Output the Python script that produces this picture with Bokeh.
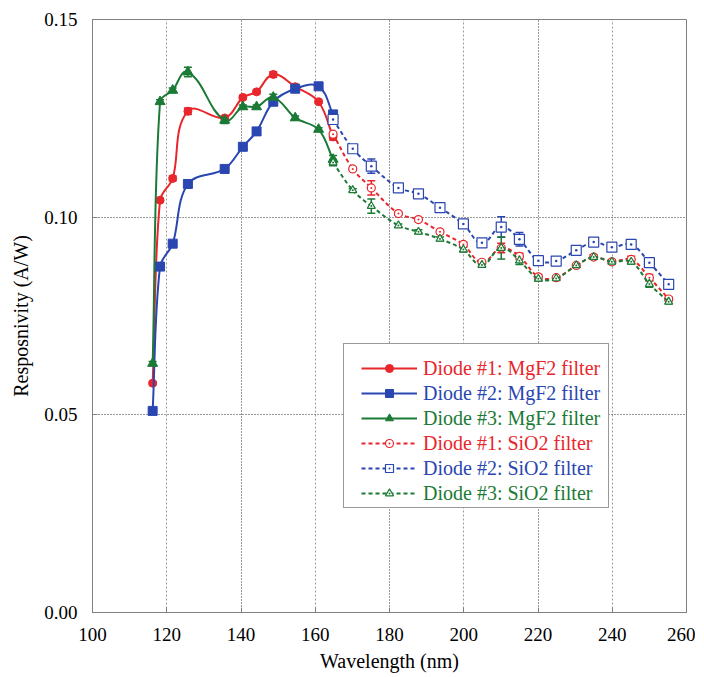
import numpy as np
from bokeh.plotting import figure
from bokeh.models import (Range1d, FixedTicker, Grid, Legend, LegendItem, Whisker,
                          ColumnDataSource, NumeralTickFormatter, TeeHead)
from bokeh.embed import file_html
from bokeh.resources import INLINE

# ---------------- data ----------------
wl_mgf2 = [116.2, 118.2, 121.6, 125.7, 135.6, 140.5, 144.2, 148.7, 154.6, 160.9, 164.8]
d1_mgf2 = [0.0580, 0.1043, 0.1098, 0.1268, 0.1251, 0.1303, 0.1317, 0.1361, 0.1330, 0.1292, 0.1203]
d2_mgf2 = [0.0510, 0.0875, 0.0933, 0.1084, 0.1122, 0.1178, 0.1217, 0.1292, 0.1325, 0.1331, 0.1260]
d3_mgf2 = [0.0630, 0.1292, 0.1321, 0.1367, 0.1245, 0.1279, 0.1279, 0.1303, 0.1251, 0.1222, 0.1146]
e1_mgf2 = [0.0004, 0.0004, 0.0006, 0.0008, 0.0005, 0.0005, 0.0004, 0.0007, 0.0004, 0.0004, 0.0008]
e2_mgf2 = [0.0004, 0.0004, 0.0004, 0.0005, 0.0004, 0.0004, 0.0004, 0.0005, 0.0004, 0.0004, 0.0008]
e3_mgf2 = [0.0005, 0.0005, 0.0006, 0.0012, 0.0008, 0.0005, 0.0005, 0.0008, 0.0005, 0.0004, 0.0010]

wl_sio2 = [164.8, 170.1, 175.1, 182.4, 187.8, 193.6, 199.9, 204.9, 210.1, 215.0,
           220.1, 224.9, 230.3, 235.0, 239.9, 245.1, 250.0, 255.2]
d1_sio2 = [0.1210, 0.1122, 0.1074, 0.1009, 0.0994, 0.0963, 0.0931, 0.0886, 0.0922, 0.0901,
           0.0849, 0.0847, 0.0878, 0.0899, 0.0887, 0.0893, 0.0847, 0.0793]
d2_sio2 = [0.1247, 0.1173, 0.1129, 0.1074, 0.1059, 0.1024, 0.0983, 0.0935, 0.0975, 0.0944,
           0.0890, 0.0889, 0.0916, 0.0937, 0.0924, 0.0931, 0.0885, 0.0830]
d3_sio2 = [0.1138, 0.1068, 0.1028, 0.0979, 0.0963, 0.0945, 0.0918, 0.0879, 0.0922, 0.0890,
           0.0844, 0.0845, 0.0878, 0.0899, 0.0887, 0.0887, 0.0831, 0.0786]
e1_sio2 = [0.0005, 0.0004, 0.0018, 0.0004, 0.0005, 0.0004, 0.0006, 0.0005, 0.0012, 0.0008,
           0.0006, 0.0004, 0.0004, 0.0005, 0.0005, 0.0008, 0.0008, 0.0005]
e2_sio2 = [0.0005, 0.0004, 0.0018, 0.0004, 0.0004, 0.0004, 0.0004, 0.0004, 0.0026, 0.0017,
           0.0005, 0.0004, 0.0004, 0.0004, 0.0004, 0.0006, 0.0010, 0.0004]
e3_sio2 = [0.0008, 0.0004, 0.0018, 0.0004, 0.0005, 0.0005, 0.0006, 0.0005, 0.0028, 0.0010,
           0.0006, 0.0004, 0.0004, 0.0004, 0.0005, 0.0006, 0.0008, 0.0005]

labels = ["Diode #1: MgF2 filter", "Diode #2: MgF2 filter", "Diode #3: MgF2 filter",
          "Diode #1: SiO2 filter", "Diode #2: SiO2 filter", "Diode #3: SiO2 filter"]
x_ticks = [100, 120, 140, 160, 180, 200, 220, 240, 260]
y_ticks = [0.00, 0.05, 0.10, 0.15]

# ---------------- styling ----------------
RED, BLUE, GREEN = "#e8262b", "#2a46b0", "#1b7a35"
FONT = "Liberation Serif"
X0, X1, Y0, Y1 = 100, 260, 0.0, 0.15
FW, FH = 594, 593

p = figure(width=695, height=675, output_backend="svg", toolbar_location=None,
           x_range=Range1d(X0, X1), y_range=Range1d(Y0, Y1),
           min_border_left=92, min_border_right=9, min_border_top=19, min_border_bottom=63)
p.outline_line_color = "#808080"
p.outline_line_width = 1
p.background_fill_color = "white"

p.xgrid.visible = False
p.ygrid.visible = False
dark_x = [t for t in x_ticks if t in (140, 180, 220)]
light_x = [t for t in x_ticks if t in (120, 160, 200, 240)]
p.add_layout(Grid(dimension=0, ticker=FixedTicker(ticks=light_x), grid_line_color="#9a9a9a",
                  grid_line_dash="2 2", grid_line_width=1))
p.add_layout(Grid(dimension=0, ticker=FixedTicker(ticks=dark_x), grid_line_color="#333333",
                  grid_line_dash="1 2", grid_line_width=1))
p.add_layout(Grid(dimension=1, ticker=FixedTicker(ticks=y_ticks[1:3]), grid_line_color="#333333",
                  grid_line_dash="1 2", grid_line_width=1))

for ax in (p.xaxis[0], p.yaxis[0]):
    ax.axis_line_color = "#808080"
    ax.major_tick_line_color = "#808080"
    ax.major_tick_in = 5
    ax.major_tick_out = 0
    ax.minor_tick_line_color = None
    ax.major_label_text_font = FONT
    ax.major_label_text_font_size = "19px"
    ax.major_label_text_color = "black"
    ax.axis_label_text_font = FONT
    ax.axis_label_text_font_size = "20px"
    ax.axis_label_text_font_style = "normal"
    ax.axis_label_text_color = "black"

p.xaxis.ticker = FixedTicker(ticks=x_ticks)
p.yaxis.ticker = FixedTicker(ticks=y_ticks)
p.yaxis.formatter = NumeralTickFormatter(format="0.00")
p.xaxis.axis_label = "Wavelength (nm)"
p.yaxis.axis_label = "Resposnivity (A/W)"
p.xaxis.major_label_standoff = 15
p.yaxis.major_label_standoff = 15
p.xaxis.axis_label_standoff = 6
p.yaxis.axis_label_standoff = 9


def smooth(xs, ys, k=1.0 / 3.0):
    X = (np.asarray(xs, float) - X0) / (X1 - X0) * FW
    Y = (np.asarray(ys, float) - Y0) / (Y1 - Y0) * FH
    n = len(X)
    T = []
    for i in range(n):
        a, b = max(i - 1, 0), min(i + 1, n - 1)
        tx, ty = X[b] - X[a], Y[b] - Y[a]
        L = np.hypot(tx, ty) or 1.0
        T.append((tx / L, ty / L))
    out = {key: [] for key in ("x0", "y0", "x1", "y1", "cx0", "cy0", "cx1", "cy1")}
    for i in range(n - 1):
        d = np.hypot(X[i + 1] - X[i], Y[i + 1] - Y[i]) * k
        vals = dict(x0=X[i], y0=Y[i], x1=X[i + 1], y1=Y[i + 1],
                    cx0=X[i] + T[i][0] * d, cy0=Y[i] + T[i][1] * d,
                    cx1=X[i + 1] - T[i + 1][0] * d, cy1=Y[i + 1] - T[i + 1][1] * d)
        for key, v in vals.items():
            if key.startswith("x") or key.startswith("cx"):
                out[key].append(v / FW * (X1 - X0) + X0)
            else:
                out[key].append(v / FH * (Y1 - Y0) + Y0)
    return ColumnDataSource(out)


series = [
    (wl_mgf2, d1_mgf2, e1_mgf2, RED, "solid", "circle", 8, RED),
    (wl_mgf2, d2_mgf2, e2_mgf2, BLUE, "solid", "square", 9, BLUE),
    (wl_mgf2, d3_mgf2, e3_mgf2, GREEN, "solid", "triangle", 10, GREEN),
    (wl_sio2, d1_sio2, e1_sio2, RED, "4 3", "circle_dot", 8, "white"),
    (wl_sio2, d2_sio2, e2_sio2, BLUE, "4 3", "square_dot", 10, "white"),
    (wl_sio2, d3_sio2, e3_sio2, GREEN, "4 3", "triangle_dot", 8, "white"),
]

legend_parts = []
for xs, ys, es, col, dash, marker, size, fill in series:
    bsrc = smooth(xs, ys)
    p.bezier(x0="x0", y0="y0", x1="x1", y1="y1", cx0="cx0", cy0="cy0", cx1="cx1", cy1="cy1",
             source=bsrc, line_color=col, line_width=2, line_dash=dash)
    src = ColumnDataSource(dict(x=xs, y=ys,
                                lo=[a - b for a, b in zip(ys, es)],
                                hi=[a + b for a, b in zip(ys, es)]))
    p.add_layout(Whisker(base="x", lower="lo", upper="hi", source=src, dimension="height",
                         line_color=col, line_width=1.5,
                         upper_head=TeeHead(size=8, line_color=col, line_width=1.5),
                         lower_head=TeeHead(size=8, line_color=col, line_width=1.5)))
    sc = p.scatter(x="x", y="y", source=src, marker=marker, size=size, line_color=col,
                   fill_color=fill, line_width=1.2 if fill == "white" else 1)
    # single-point line: draws nothing on the plot, only provides the legend's line sample
    key_line = p.line(x=xs[:1], y=ys[:1], line_color=col, line_width=2, line_dash=dash)
    legend_parts.append((key_line, sc, col))

# legend frame (white box with border)
frame_dummy = p.line(x=wl_mgf2[:1], y=d1_mgf2[:1], line_alpha=0)
box = Legend(items=[LegendItem(label=" ", renderers=[frame_dummy])], location=(251, 104),
             padding=0, margin=0, spacing=0, glyph_width=20, glyph_height=163,
             label_width=244, label_height=163, label_standoff=0, label_text_alpha=0,
             border_line_color="#333333", border_line_width=1.5,
             background_fill_color="white", background_fill_alpha=1)
p.add_layout(box)

for k, ((key_line, sc, col), lab) in enumerate(zip(legend_parts, labels)):
    lg = Legend(items=[LegendItem(label=lab, renderers=[key_line, sc])],
                location=(269, 232.5 - 25 * k),
                padding=0, margin=0, spacing=0, glyph_width=56, glyph_height=20,
                label_height=20, label_standoff=6,
                label_text_font=FONT, label_text_font_size="20px", label_text_color=col,
                border_line_alpha=0, background_fill_alpha=0)
    p.add_layout(lg)

open("out.html", "w").write(file_html(p, INLINE))
